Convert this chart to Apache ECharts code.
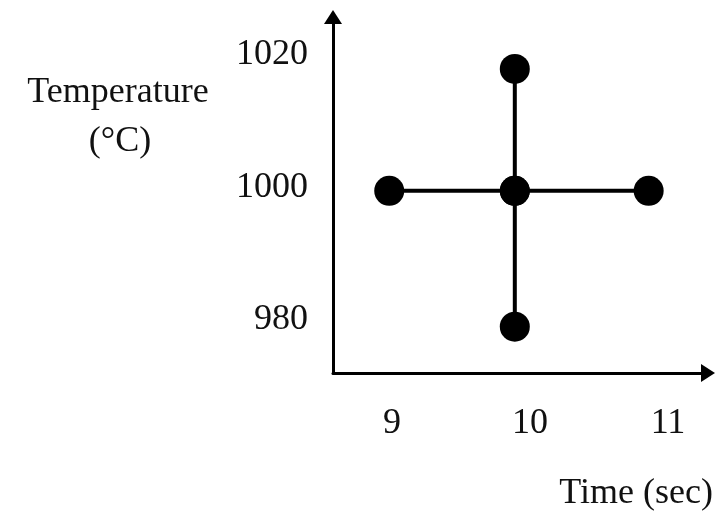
<!DOCTYPE html>
<html>
<head>
<meta charset="utf-8">
<script src="https://cdn.jsdelivr.net/npm/echarts@6/dist/echarts.min.js"></script>
<style>
html, body { margin: 0; padding: 0; background: #fff; }
#chart { width: 715px; height: 512px; }
</style>
</head>
<body>
<div id="chart"></div>
<script>
// 刻度
const xTicks = [9, 10, 11];
const yTicks = [980, 1000, 1020];
// 水平方向：时间变化，温度不变
const timeRow = [[8.98, 999.5], [9.89, 999.5], [10.86, 999.5]];
// 竖直方向：温度变化，时间不变
const tempCol = [[9.89, 1017.9], [9.89, 999.5], [9.89, 979]];

const font = "'Liberation Serif', 'DejaVu Serif', serif";
const ink = "#000";

const chart = echarts.init(document.getElementById("chart"));
chart.setOption({
  animation: false,
  backgroundColor: "#fff",
  grid: { left: 333, right: 7, top: 17, bottom: 139 },
  xAxis: {
    type: "value",
    min: 8.5725,
    max: 11.29,
    splitLine: { show: false },
    axisTick: { show: false },
    axisLine: {
      show: true,
      onZero: false,
      symbol: ["none", "triangle"],
      symbolSize: [18, 14],
      lineStyle: { color: ink, width: 3 },
    },
    axisLabel: {
      customValues: xTicks,
      margin: 33,
      fontFamily: font,
      fontSize: 36,
      color: "#111",
      formatter: (v) => String(v),
    },
  },
  yAxis: {
    type: "value",
    min: 972,
    max: 1025.74,
    splitLine: { show: false },
    axisTick: { show: false },
    axisLine: {
      show: true,
      onZero: false,
      symbol: ["none", "triangle"],
      symbolSize: [18, 14],
      lineStyle: { color: ink, width: 3 },
    },
    axisLabel: {
      customValues: yTicks,
      margin: 25,
      fontFamily: font,
      fontSize: 36,
      color: "#111",
      formatter: (v) => String(v),
    },
  },
  graphic: [
    {
      type: "text",
      x: 118,
      y: 75,
      style: { text: "Temperature", font: "36px " + font, fill: "#111", align: "center" },
    },
    {
      type: "text",
      x: 120,
      y: 124,
      style: { text: "(°C)", font: "36px " + font, fill: "#111", align: "center" },
    },
    {
      type: "text",
      right: 2,
      top: 476,
      style: { text: "Time (sec)", font: "36px " + font, fill: "#111" },
    },
  ],
  series: [
    {
      type: "line",
      data: timeRow,
      symbol: "circle",
      symbolSize: 30,
      itemStyle: { color: ink },
      lineStyle: { color: ink, width: 4 },
    },
    {
      type: "line",
      data: tempCol,
      symbol: "circle",
      symbolSize: 30,
      itemStyle: { color: ink },
      lineStyle: { color: ink, width: 4 },
    },
  ],
});
</script>
</body>
</html>
